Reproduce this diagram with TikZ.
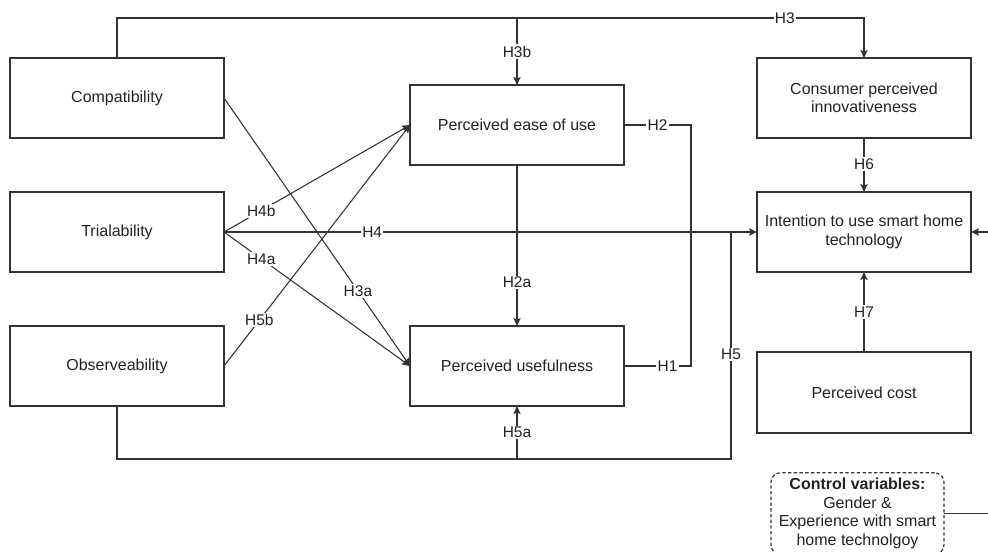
\documentclass[tikz,border=0pt]{standalone}
\usepackage{fontspec}
\setmainfont{Liberation Sans}
\usetikzlibrary{arrows.meta}
\definecolor{ln}{HTML}{333333}
\definecolor{tx}{HTML}{222222}
\tikzset{
  box/.style={draw=ln, line width=0.9pt, minimum width=160.5pt, minimum height=60pt, inner sep=0pt, outer sep=0pt, align=center, text=tx, font=\fontsize{12}{13.9}\selectfont},
  lab/.style={fill=white, inner sep=1pt, text=tx, font=\fontsize{11.6}{13.9}\selectfont},
  con/.style={draw=ln, line width=0.8pt},
  arr/.style={con, -{Stealth[length=6pt,width=5.5pt,inset=1.2pt]}}
}
\begin{document}
\begin{tikzpicture}[x=0.75pt,y=-0.75pt]
\useasboundingbox (0,0) rectangle (988,551);
\clip (0,0) rectangle (988,551);
\fill[white] (0,0) rectangle (988,551);
% nodes
\node[box] (comp) at (117,98) {Compatibility};
\node[box] (trial) at (117,232) {Trialability};
\node[box] (obs) at (117,366) {Observeability};
\node[box] (peou) at (517,125) {Perceived ease of use};
\node[box] (pu) at (517,366) {Perceived usefulness};
\node[box] (cpi) at (864,98) {Consumer perceived\\innovativeness};
\node[box] (itu) at (864,232) {Intention to use smart home\\technology};
\node[box, minimum height=60.75pt] (cost) at (864,392.5) {Perceived cost};
\node[box, draw=ln, dash pattern=on 2.5pt off 1.8pt, rounded corners=7pt, minimum width=129.75pt, minimum height=61pt] (ctrl) at (857.5,513.5) {\textbf{Control variables:}\\Gender \&\\Experience with smart\\home technolgoy};
% helper coordinates
\coordinate (topy) at (0,18);
\coordinate (boty) at (0,459);
\coordinate (vx) at (691,0);
\coordinate (h5x) at (731,0);
\coordinate (rx) at (1000,0);
% connectors
\draw[arr] (comp.north) -- (comp.north |- topy) -- node[lab,pos=0.894]{H3} (cpi.north |- topy) -- (cpi.north);
\draw[arr] (peou.north |- topy) -- node[lab]{H3b} (peou.north);
\draw[con] (peou.east) -- node[lab]{H2} (peou.east -| vx) -- (pu.east -| vx) -- node[lab,pos=0.35]{H1} (pu.east);
\draw[arr] (comp.east) -- node[lab,pos=0.72]{H3a} (pu.west);
\draw[arr] (trial.east) -- node[lab,pos=0.2]{H4b} (peou.west);
\draw[arr] (trial.east) -- node[lab,pos=0.2]{H4a} (pu.west);
\draw[arr] (obs.east) -- node[lab,pos=0.19]{H5b} (peou.west);
\draw[arr] (trial.east) -- node[lab,pos=0.278]{H4} (itu.west);
\draw[arr] (peou.south) -- node[lab,pos=0.73]{H2a} (pu.north);
\draw[con] (obs.south) -- (obs.south |- boty) -- (h5x |- boty) -- node[lab,pos=0.46]{H5} (h5x |- itu.west);
\draw[arr] (pu.south |- boty) -- node[lab]{H5a} (pu.south);
\draw[arr] (cpi.south) -- node[lab,pos=0.48]{H6} (itu.north);
\draw[arr] (cost.north) -- node[lab]{H7} (itu.south);
\draw[arr] (ctrl.east) -| (rx |- itu.east) -- (itu.east);
\end{tikzpicture}
\end{document}
